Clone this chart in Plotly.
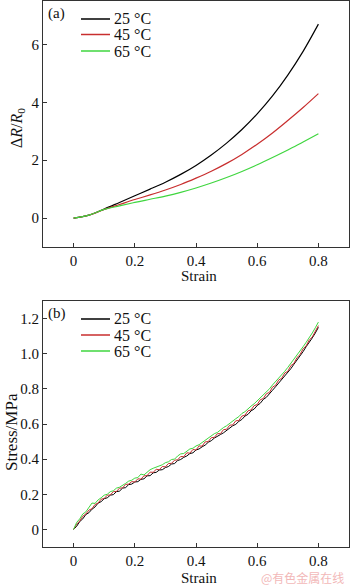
import plotly.graph_objects as go

# ---- data: panel (a) ----
strain_a = [0.0, 0.05, 0.10, 0.15, 0.20, 0.25, 0.30, 0.35, 0.40, 0.45,
            0.50, 0.55, 0.60, 0.65, 0.70, 0.75, 0.80]
dr_25 = [0.0, 0.10, 0.31, 0.54, 0.77, 1.00, 1.24, 1.51, 1.82, 2.18,
         2.59, 3.06, 3.60, 4.22, 4.94, 5.76, 6.70]
dr_45 = [0.0, 0.10, 0.30, 0.47, 0.64, 0.80, 0.97, 1.16, 1.38, 1.62,
         1.89, 2.20, 2.55, 2.94, 3.37, 3.82, 4.30]
dr_65 = [0.0, 0.10, 0.30, 0.42, 0.54, 0.65, 0.76, 0.89, 1.04, 1.21,
         1.40, 1.61, 1.84, 2.09, 2.35, 2.63, 2.91]

# ---- data: panel (b) ----
strain_b = [i / 100 for i in range(81)]
st_25 = [0.000, 0.018, 0.045, 0.060, 0.085, 0.095, 0.115, 0.128, 0.150, 0.158,
         0.175, 0.180, 0.195, 0.198, 0.215, 0.218, 0.235, 0.238, 0.255, 0.258,
         0.270, 0.272, 0.285, 0.288, 0.305, 0.306, 0.322, 0.325, 0.338, 0.340,
         0.352, 0.358, 0.372, 0.375, 0.392, 0.398, 0.410, 0.418, 0.432, 0.436,
         0.452, 0.458, 0.470, 0.480, 0.496, 0.505, 0.520, 0.528, 0.540, 0.550,
         0.565, 0.575, 0.590, 0.598, 0.615, 0.626, 0.645, 0.655, 0.675, 0.685,
         0.705, 0.718, 0.740, 0.752, 0.775, 0.792, 0.812, 0.832, 0.852, 0.872,
         0.895, 0.915, 0.940, 0.962, 0.990, 1.012, 1.040, 1.062, 1.090, 1.118,
         1.150]
st_45 = [0.000, 0.030, 0.048, 0.075, 0.088, 0.110, 0.118, 0.142, 0.150, 0.172,
         0.176, 0.195, 0.196, 0.215, 0.216, 0.235, 0.236, 0.256, 0.258, 0.272,
         0.270, 0.288, 0.286, 0.305, 0.306, 0.326, 0.325, 0.342, 0.340, 0.358,
         0.356, 0.375, 0.376, 0.394, 0.396, 0.415, 0.414, 0.436, 0.434, 0.455,
         0.452, 0.475, 0.474, 0.498, 0.500, 0.522, 0.524, 0.545, 0.545, 0.568,
         0.570, 0.593, 0.595, 0.618, 0.620, 0.645, 0.650, 0.675, 0.680, 0.705,
         0.710, 0.738, 0.745, 0.772, 0.780, 0.810, 0.820, 0.850, 0.860, 0.890,
         0.900, 0.932, 0.945, 0.978, 0.995, 1.028, 1.045, 1.078, 1.095, 1.132,
         1.160]
st_65 = [0.000, 0.040, 0.060, 0.088, 0.100, 0.125, 0.150, 0.148, 0.168, 0.180,
         0.195, 0.200, 0.215, 0.220, 0.235, 0.240, 0.250, 0.262, 0.275, 0.280,
         0.292, 0.295, 0.315, 0.310, 0.325, 0.340, 0.348, 0.355, 0.365, 0.368,
         0.380, 0.385, 0.398, 0.400, 0.418, 0.430, 0.432, 0.445, 0.458, 0.462,
         0.475, 0.482, 0.495, 0.510, 0.518, 0.535, 0.545, 0.552, 0.568, 0.580,
         0.590, 0.605, 0.618, 0.630, 0.642, 0.660, 0.670, 0.688, 0.702, 0.715,
         0.732, 0.748, 0.765, 0.782, 0.800, 0.822, 0.840, 0.860, 0.882, 0.900,
         0.922, 0.945, 0.965, 0.992, 1.015, 1.040, 1.065, 1.090, 1.118, 1.148,
         1.180]

labels = ["25 °C", "45 °C", "65 °C"]
colors = ["#000000", "#c82e2e", "#3fd63f"]
x_ticks = [0, 0.2, 0.4, 0.6, 0.8]
x_ticktext = ["0", "0.2", "0.4", "0.6", "0.8"]
ya_ticks = [0, 2, 4, 6]
yb_ticks = [0, 0.2, 0.4, 0.6, 0.8, 1.0, 1.2]
yb_ticktext = ["0", "0.2", "0.4", "0.6", "0.8", "1.0", "1.2"]

W, H = 350, 585
SERIF = "Liberation Serif"

fig = go.Figure()
for lab, col, ys in zip(labels, colors, [dr_25, dr_45, dr_65]):
    fig.add_trace(go.Scatter(x=strain_a, y=ys, mode="lines", name=lab,
                             line=dict(color=col, width=1.2, shape="spline"),
                             xaxis="x", yaxis="y", showlegend=False))
for lab, col, ys in zip(labels, colors, [st_25, st_45, st_65]):
    fig.add_trace(go.Scatter(x=strain_b, y=ys, mode="lines", name=lab,
                             line=dict(color=col, width=1.0),
                             xaxis="x2", yaxis="y2", showlegend=False))

def px_x(p):
    return p / W

def px_y(p):
    return 1 - p / H

axis_common = dict(showline=True, linecolor="#333333", linewidth=1, mirror=True,
                   ticks="inside", ticklen=4, tickcolor="#333333", showgrid=False,
                   zeroline=False, tickfont=dict(family=SERIF, size=15, color="#111111"))

fig.update_layout(
    width=W, height=H,
    margin=dict(l=0, r=0, t=0, b=0),
    paper_bgcolor="white", plot_bgcolor="white",
    xaxis=dict(domain=[px_x(43), px_x(349)], range=[-0.1, 0.9], anchor="y",
               tickvals=x_ticks, ticktext=x_ticktext, **axis_common),
    yaxis=dict(domain=[px_y(247), px_y(1)], range=[-1, 7.5], anchor="x",
               tickvals=ya_ticks, **axis_common),
    xaxis2=dict(domain=[px_x(43), px_x(349)], range=[-0.1, 0.9], anchor="y2",
                tickvals=x_ticks, ticktext=x_ticktext, **axis_common),
    yaxis2=dict(domain=[px_y(547), px_y(301)], range=[-0.1, 1.3], anchor="x2",
                tickvals=yb_ticks, ticktext=yb_ticktext, **axis_common),
    showlegend=False,
)

# manual legends (line samples + labels) in both panels
legend_rows = {"a": [19, 34.5, 51], "b": [319, 335, 351]}
for rows in legend_rows.values():
    for lab, col, yy in zip(labels, colors, rows):
        fig.add_shape(type="line", xref="paper", yref="paper",
                      x0=px_x(81), x1=px_x(110), y0=px_y(yy), y1=px_y(yy),
                      line=dict(color=col, width=1.5))
        fig.add_annotation(text=lab, x=px_x(112), y=px_y(yy), xref="paper", yref="paper",
                           xanchor="left", yanchor="middle", showarrow=False,
                           font=dict(family=SERIF, size=16, color="#111111"))

ann_font = dict(family=SERIF, size=15, color="#111111")
annotations = [
    dict(text="(a)", x=px_x(46), y=px_y(13), xanchor="left", yanchor="middle"),
    dict(text="(b)", x=px_x(46), y=px_y(313), xanchor="left", yanchor="middle"),
    dict(text="Strain", x=px_x(199), y=px_y(276), xanchor="center", yanchor="middle"),
    dict(text="Strain", x=px_x(199), y=px_y(578), xanchor="center", yanchor="middle"),
    dict(text="Δ<i>R</i>/<i>R</i><sub>0</sub>", x=px_x(17), y=px_y(128),
         xanchor="center", yanchor="middle", textangle=-90,
         font=dict(family=SERIF, size=16, color="#111111")),
    dict(text="Stress/MPa", x=px_x(11), y=px_y(432), xanchor="center",
         yanchor="middle", textangle=-90, font=dict(family=SERIF, size=17, color="#111111")),
]
for a in annotations:
    a.setdefault("font", ann_font)
    a.update(xref="paper", yref="paper", showarrow=False)
    fig.add_annotation(**a)

fig.add_annotation(text="@有色金属在线", x=px_x(346), y=px_y(577), xref="paper", yref="paper",
                   xanchor="right", yanchor="middle", showarrow=False,
                   font=dict(family="Noto Sans CJK SC", size=12, color="#f2b8b8"))

fig.write_html("out.html")
